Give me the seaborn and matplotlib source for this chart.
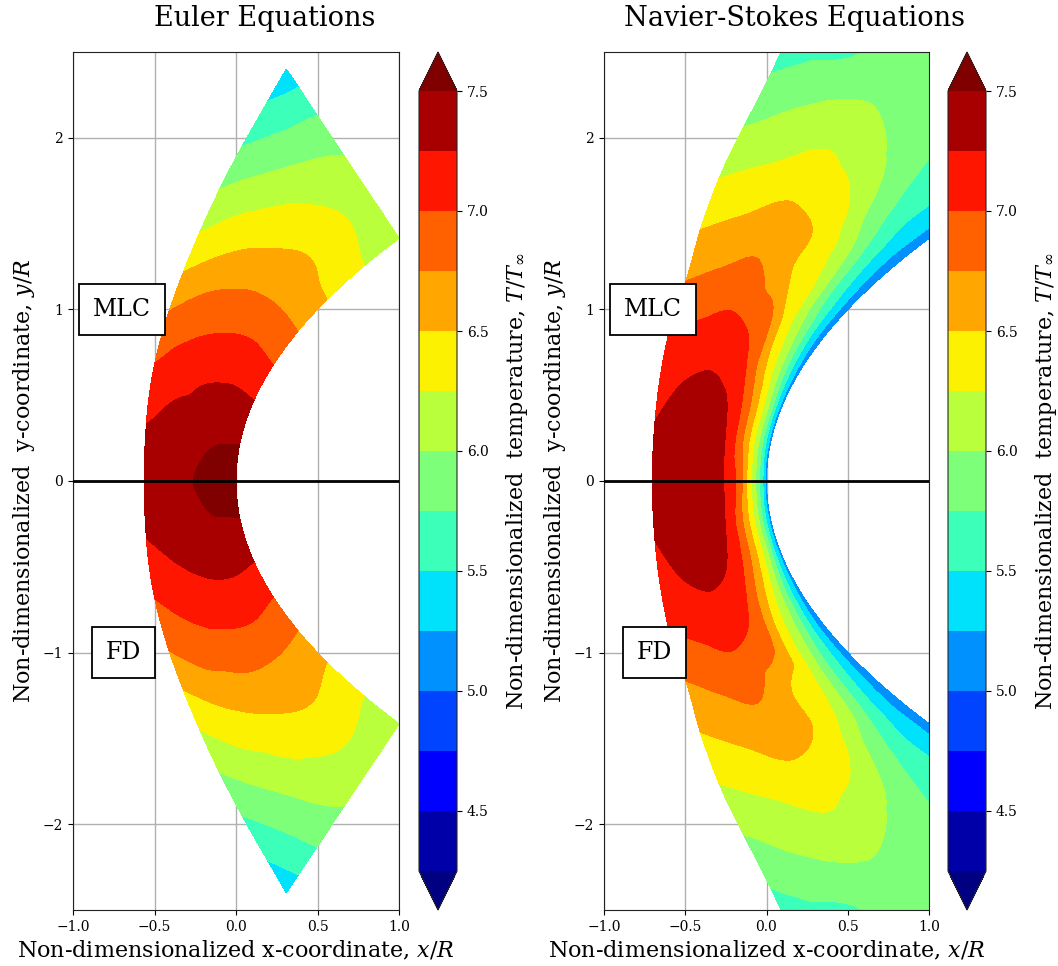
import numpy as np
import matplotlib
matplotlib.use("Agg")
import matplotlib.pyplot as plt
import matplotlib.tri as mtri
import seaborn as sns

sns.set_style("ticks")
plt.rcParams["font.family"] = ["DejaVu Serif"]
plt.rcParams["mathtext.fontset"] = "dejavuserif"
plt.rcParams["text.color"] = "black"
plt.rcParams["axes.labelcolor"] = "black"
plt.rcParams["xtick.color"] = "black"
plt.rcParams["ytick.color"] = "black"

# ---------------- data ----------------
contour_levels = [4.25, 4.5, 4.75, 5.0, 5.25, 5.5, 5.75, 6.0, 6.25, 6.5, 6.75, 7.0, 7.25, 7.5]
cbar_ticks = [4.5, 5.0, 5.5, 6.0, 6.5, 7.0, 7.5]
x_ticks = [-1.0, -0.5, 0.0, 0.5, 1.0]
y_ticks = [-2, -1, 0, 1, 2]
panel_titles = ["Euler Equations", "Navier-Stokes Equations"]
box_labels = ["MLC", "FD"]
box_x = [-0.70, -0.69]
box_y = [1.0, -1.0]

# Euler solution (upper half, mirrored about y = 0): stations from stagnation line to outflow
euler_body_x = [0.0, 0.010, 0.040, 0.090, 0.160, 0.250, 0.360, 0.490, 0.641, 0.811, 1.000]
euler_body_y = [0.0, 0.1415, 0.283, 0.4245, 0.566, 0.7075, 0.849, 0.9905, 1.132, 1.2735, 1.415]
euler_shock_x = [-0.564, -0.556, -0.535, -0.490, -0.420, -0.330, -0.226, -0.110, 0.020, 0.163, 0.309]
euler_shock_y = [0.0, 0.24, 0.48, 0.72, 0.96, 1.20, 1.44, 1.68, 1.92, 2.16, 2.40]
euler_across = [0.0, 0.25, 0.5, 0.75, 1.0]
euler_T = [
    [7.62, 7.56, 7.49, 7.42, 7.36],
    [7.55, 7.52, 7.44, 7.38, 7.30],
    [7.44, 7.41, 7.33, 7.27, 7.15],
    [7.30, 7.30, 7.24, 7.13, 6.975],
    [7.14, 7.16, 7.09, 6.96, 6.78],
    [6.96, 6.99, 6.91, 6.77, 6.52],
    [6.78, 6.79, 6.72, 6.53, 6.26],
    [6.59, 6.62, 6.52, 6.31, 6.02],
    [6.40, 6.47, 6.34, 6.08, 5.78],
    [6.23, 6.29, 6.15, 5.88, 5.55],
    [6.12, 6.06, 5.99, 5.72, 5.33],
]

# Navier-Stokes solution (upper half, mirrored about y = 0)
ns_body_x = [0.0, 0.02, 0.08, 0.18, 0.32, 0.50, 0.72, 0.98, 1.28, 1.62, 2.00]
ns_body_y = [0.0, 0.2, 0.4, 0.6, 0.8, 1.0, 1.2, 1.4, 1.6, 1.8, 2.0]
ns_shock_x = [-0.703, -0.690, -0.655, -0.590, -0.485, -0.395, -0.275, -0.120, 0.040, 0.190, 0.350]
ns_shock_y = [0.0, 0.3, 0.6, 0.9, 1.2, 1.5, 1.8, 2.1, 2.4, 2.7, 3.0]
ns_across = [0.0, 0.03, 0.08, 0.15, 0.25, 0.4, 0.6, 0.8, 1.0]
ns_T = [
    [5.10, 5.49, 5.90, 6.36, 6.93, 7.29, 7.37, 7.36, 7.32],
    [5.10, 5.42, 5.86, 6.32, 6.81, 7.27, 7.34, 7.31, 7.27],
    [5.10, 5.40, 5.87, 6.32, 6.78, 7.20, 7.31, 7.26, 7.12],
    [5.10, 5.32, 5.68, 6.11, 6.54, 7.02, 7.15, 7.08, 6.97],
    [5.10, 5.23, 5.54, 5.94, 6.33, 6.85, 6.95, 6.85, 6.72],
    [5.10, 5.22, 5.48, 5.80, 6.26, 6.51, 6.74, 6.62, 6.47],
    [5.10, 5.20, 5.39, 5.71, 6.12, 6.46, 6.55, 6.39, 6.22],
    [5.08, 5.22, 5.34, 5.57, 5.84, 6.22, 6.33, 6.16, 5.97],
    [5.06, 5.22, 5.34, 5.57, 5.72, 5.96, 6.12, 5.96, 5.73],
    [5.05, 5.22, 5.34, 5.50, 5.68, 5.83, 5.88, 5.70, 5.50],
    [5.05, 5.22, 5.34, 5.50, 5.64, 5.76, 5.82, 5.65, 5.42],
]


def mirror(vals, flip=False):
    v = np.asarray(vals, dtype=float)
    low = -v[:0:-1] if flip else v[:0:-1]
    return np.concatenate([low, v], axis=0)


def draw_field(ax, body_x, body_y, shock_x, shock_y, across, temps):
    bx, by = mirror(body_x), mirror(body_y, flip=True)
    sx, sy = mirror(shock_x), mirror(shock_y, flip=True)
    t = mirror(temps)
    n = np.asarray(across)
    X = bx[:, None] + n[None, :] * (sx - bx)[:, None]
    Y = by[:, None] + n[None, :] * (sy - by)[:, None]
    ni, nj = X.shape
    # computational (index) space triangulation, cubic interpolation by matplotlib
    I, J = np.meshgrid(np.arange(ni, dtype=float), np.arange(nj, dtype=float), indexing="ij")
    comp = mtri.Triangulation(I.ravel(), J.ravel())
    fi = np.linspace(0, ni - 1, (ni - 1) * 12 + 1)
    fj = np.linspace(0, nj - 1, (nj - 1) * 12 + 1)
    FI, FJ = np.meshgrid(fi, fj, indexing="ij")
    out = []
    for field in (X, Y, t):
        itp = mtri.CubicTriInterpolator(comp, field.ravel(), kind="geom")
        out.append(np.asarray(itp(FI, FJ)))
    Xf, Yf, Tf = out
    return ax.contourf(Xf, Yf, Tf, levels=contour_levels, cmap="jet", extend="both")


fig = plt.figure(figsize=(10.58, 9.66), dpi=100)
W, H = 1058.0, 966.0
ax_specs = [(73, 52, 326, 858), (604, 52, 325, 858)]
cb_specs = [(419, 52, 38, 858), (948, 52, 38, 858)]
fields = [
    (euler_body_x, euler_body_y, euler_shock_x, euler_shock_y, euler_across, euler_T),
    (ns_body_x, ns_body_y, ns_shock_x, ns_shock_y, ns_across, ns_T),
]

for k in range(2):
    l, t_, w, h = ax_specs[k]
    ax = fig.add_axes([l / W, 1 - (t_ + h) / H, w / W, h / H])
    cs = draw_field(ax, *fields[k])
    ax.axhline(0, color="black", lw=2, zorder=3)
    ax.set_xlim(-1, 1)
    ax.set_ylim(-2.5, 2.5)
    ax.set_xticks(x_ticks)
    ax.set_yticks(y_ticks)
    ax.grid(True, color="#b0b0b0", lw=1)
    for sp in ax.spines.values():
        sp.set_color("#222222")
    ax.tick_params(labelsize=10)
    ax.set_xlabel("Non-dimensionalized x-coordinate, $x/R$", fontsize=16)
    ax.set_ylabel("Non-dimensionalized  y-coordinate, $y/R$", fontsize=16)
    for lab, bxp, byp in zip(box_labels, box_x, box_y):
        ax.text(bxp, byp, lab, ha="center", va="center", fontsize=17, zorder=5,
                bbox=dict(boxstyle="square,pad=0.6", fc="white", ec="black", lw=1.3))
    cl, ct, cw, ch = cb_specs[k]
    cax = fig.add_axes([cl / W, 1 - (ct + ch) / H, cw / W, ch / H])
    cb = fig.colorbar(cs, cax=cax, ticks=cbar_ticks)
    cb.ax.tick_params(labelsize=10)
    cb.set_label("Non-dimensionalized  temperature, $T/T_\\infty$", fontsize=16, labelpad=11)
    # title centred over the panel and its colour bar
    fig.text((l + cl + cw) / 2 / W, 1 - 18 / H, panel_titles[k], fontsize=19.5,
             ha="center", va="center")

fig.savefig("out.png", dpi=100)
